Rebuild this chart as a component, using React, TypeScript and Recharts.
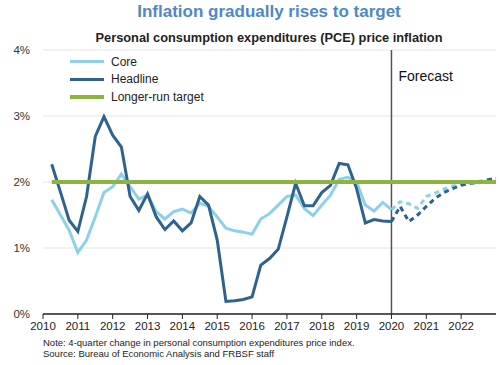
import { LineChart, Line, XAxis, YAxis, CartesianGrid, ReferenceLine, Legend } from 'recharts';

const years = [2010, 2011, 2012, 2013, 2014, 2015, 2016, 2017, 2018, 2019, 2020, 2021, 2022];
const forecastStart = 2020;

// 4-quarter change, %, 2010Q1..2019Q4
const headlineActual = [
  2.27, 1.85, 1.42, 1.25, 1.78, 2.69, 2.99, 2.71, 2.53, 1.78,
  1.57, 1.82, 1.47, 1.28, 1.41, 1.26, 1.38, 1.78, 1.65, 1.12,
  0.19, 0.2, 0.22, 0.26, 0.74, 0.84, 0.98, 1.47, 1.98, 1.64,
  1.64, 1.84, 1.95, 2.28, 2.26, 1.9, 1.38, 1.43, 1.41, 1.4,
];
const coreActual = [
  1.73, 1.5, 1.27, 0.93, 1.12, 1.47, 1.84, 1.93, 2.12, 1.93,
  1.74, 1.8, 1.55, 1.44, 1.55, 1.59, 1.53, 1.68, 1.63, 1.47,
  1.3, 1.26, 1.24, 1.21, 1.44, 1.52, 1.65, 1.78, 1.8, 1.6,
  1.49, 1.65, 1.8, 2.04, 2.07, 2.0, 1.65, 1.56, 1.69, 1.58,
];
// forecast 2020Q1..2022Q4
const headlineForecast = [1.63, 1.4, 1.5, 1.63, 1.75, 1.84, 1.9, 1.95, 1.98, 1.99, 2.03, 2.06];
const coreForecast = [1.7, 1.67, 1.6, 1.78, 1.83, 1.89, 1.94, 1.97, 1.99, 2.01, 2.03, 2.05];
const targetRate = 2;

const yTicks = [0, 1, 2, 3, 4];

const CORE = '#8dd0ea';
const HEADLINE = '#2e6291';
const TARGET = '#8db43f';

// quarter-end positions on the year axis
const quarterEnds = years.flatMap((y) => [y + 0.25, y + 0.5, y + 0.75, y + 1]);

const data = quarterEnds.map((t, i) => {
  const nA = headlineActual.length;
  const row: any = { t, target: targetRate };
  if (i < nA) {
    row.headline = headlineActual[i];
    row.core = coreActual[i];
  }
  if (i === nA - 1) {
    row.headlineF = headlineActual[i];
    row.coreF = coreActual[i];
  }
  if (i >= nA) {
    row.headlineF = headlineForecast[i - nA];
    row.coreF = coreForecast[i - nA];
  }
  return row;
});

const font = '"Liberation Sans", Arial, sans-serif';

function LegendBox({ payload }: any) {
  const items = (payload || []).filter((p: any) => ['Core', 'Headline', 'Longer-run target'].includes(p.value));
  return (
    <div style={{ fontFamily: font, fontSize: 12, color: '#222' }}>
      {items.map((p: any) => (
        <div key={p.value} style={{ display: 'flex', alignItems: 'center', height: 17.5 }}>
          <div style={{ width: 34, height: p.value === 'Longer-run target' ? 4 : 3, background: p.color, marginRight: 7 }} />
          <span>{p.value}</span>
        </div>
      ))}
    </div>
  );
}

function ForecastLabel({ viewBox }: any) {
  return (
    <text x={viewBox.x + 7} y={viewBox.y + 31} fontSize={14} fill="#111" fontFamily={font}>
      Forecast
    </text>
  );
}

export default function App() {
  return (
    <div style={{ position: 'absolute', left: 0, top: 0, width: 500, height: 365, background: '#fff', fontFamily: font }}>
      <div style={{ position: 'absolute', left: 0, width: 538, top: 2, textAlign: 'center', fontSize: 17, fontWeight: 'bold', color: '#4f88c6' }}>
        Inflation gradually rises to target
      </div>
      <div style={{ position: 'absolute', left: 0, width: 538, top: 30, textAlign: 'center', fontSize: 12.8, fontWeight: 'bold', color: '#222' }}>
        Personal consumption expenditures (PCE) price inflation
      </div>
      <LineChart width={500} height={365} data={data} margin={{ top: 50, right: 4, left: 0, bottom: 21 }}>
        <CartesianGrid horizontal vertical={false} stroke="#e4e4e4" />
        <XAxis
          dataKey="t"
          type="number"
          domain={[2010, 2023]}
          ticks={years}
          interval={0}
          height={30}
          axisLine={{ stroke: '#222', strokeWidth: 1.5 }}
          tickLine={{ stroke: '#222' }}
          tickSize={5}
          tickMargin={3}
          tick={{ fontSize: 11.5, fill: '#222', fontFamily: font }}
        />
        <YAxis
          domain={[0, 4]}
          ticks={yTicks}
          width={43}
          axisLine={false}
          tickLine={false}
          tickSize={0}
          tickMargin={13}
          tickFormatter={(v) => `${v}%`}
          tick={{ fontSize: 11.5, fill: '#333', fontFamily: font }}
        />
        <ReferenceLine x={forecastStart} stroke="#555" strokeWidth={1.5} label={<ForecastLabel />} />
        <Line dataKey="core" name="Core" stroke={CORE} strokeWidth={3} dot={false} isAnimationActive={false} />
        <Line dataKey="headline" name="Headline" stroke={HEADLINE} strokeWidth={3} dot={false} isAnimationActive={false} />
        <Line dataKey="coreF" name="Core forecast" stroke={CORE} strokeWidth={3} strokeDasharray="5 4" dot={false} legendType="none" isAnimationActive={false} />
        <Line dataKey="headlineF" name="Headline forecast" stroke={HEADLINE} strokeWidth={3} strokeDasharray="5 4" dot={false} legendType="none" isAnimationActive={false} />
        <Line dataKey="target" name="Longer-run target" stroke={TARGET} strokeWidth={4} dot={false} isAnimationActive={false} />
        <Legend
          layout="vertical"
          align="center"
          verticalAlign="middle"
          content={<LegendBox />}
          wrapperStyle={{ position: 'absolute', left: 70, top: 53, width: 160 }}
        />
      </LineChart>
      <div style={{ position: 'absolute', left: 43, top: 337, fontSize: 9.5, color: '#222', lineHeight: '11px' }}>
        <div>Note: 4-quarter change in personal consumption expenditures price index.</div>
        <div>Source: Bureau of Economic Analysis and FRBSF staff</div>
      </div>
    </div>
  );
}
